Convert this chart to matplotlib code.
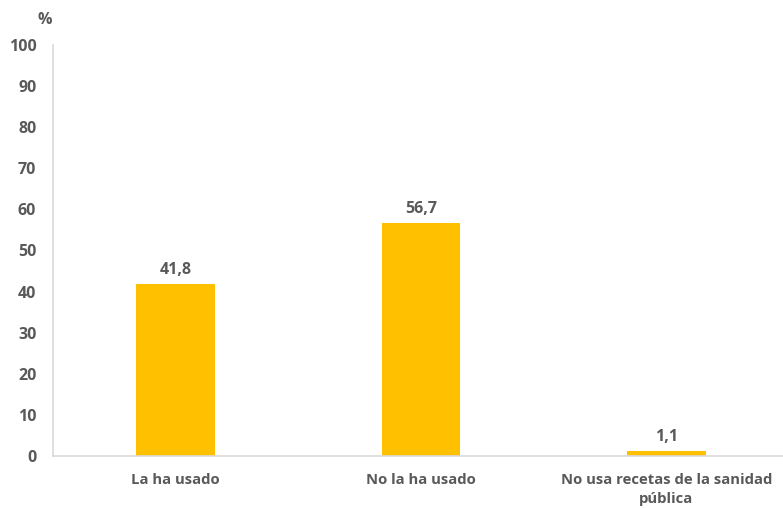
import matplotlib
matplotlib.use("Agg")
import matplotlib.pyplot as plt

# Datos del gráfico
categorias = ["La ha usado", "No la ha usado", "No usa recetas de la sanidad\npública"]
valores = [41.8, 56.7, 1.1]
ticks_y = [0, 10, 20, 30, 40, 50, 60, 70, 80, 90, 100]

gris = "#595959"
amarillo = "#FFC000"

plt.rcParams["font.family"] = ["Open Sans", "DejaVu Sans"]
plt.rcParams["font.weight"] = "bold"

fig = plt.figure(figsize=(7.83, 5.08), dpi=100)
ax = fig.add_axes([0.0677, 0.1024, 0.94, 0.809])

pos = range(len(categorias))
ax.bar(pos, valores, width=0.32, color=amarillo)

# etiquetas de valor con coma decimal
for x, v in zip(pos, valores):
    ax.text(x, v + 1.5, f"{v:.1f}".replace(".", ","), ha="center", va="bottom",
            fontsize=11.5, fontweight="bold", color=gris)

ax.set_xlim(-0.5, 2.5)
ax.set_ylim(0, 100)
ax.set_yticks(ticks_y)
ax.set_yticklabels([str(t) for t in ticks_y], fontsize=11.5, fontweight="bold", color=gris)
ax.set_xticks(list(pos))
ax.set_xticklabels(categorias, fontsize=10.7, fontweight="bold", color=gris, linespacing=1.5)
ax.tick_params(axis="both", length=0)
ax.tick_params(axis="y", pad=12)
ax.tick_params(axis="x", pad=12)

for s in ["top", "right"]:
    ax.spines[s].set_visible(False)
for s in ["left", "bottom"]:
    ax.spines[s].set_color("#D9D9D9")
    ax.spines[s].set_linewidth(1.2)

fig.text(45 / 783, 1 - 20 / 508, "%", ha="center", va="center",
         fontsize=11.5, fontweight="bold", color=gris)

fig.savefig("out.png", dpi=100)
